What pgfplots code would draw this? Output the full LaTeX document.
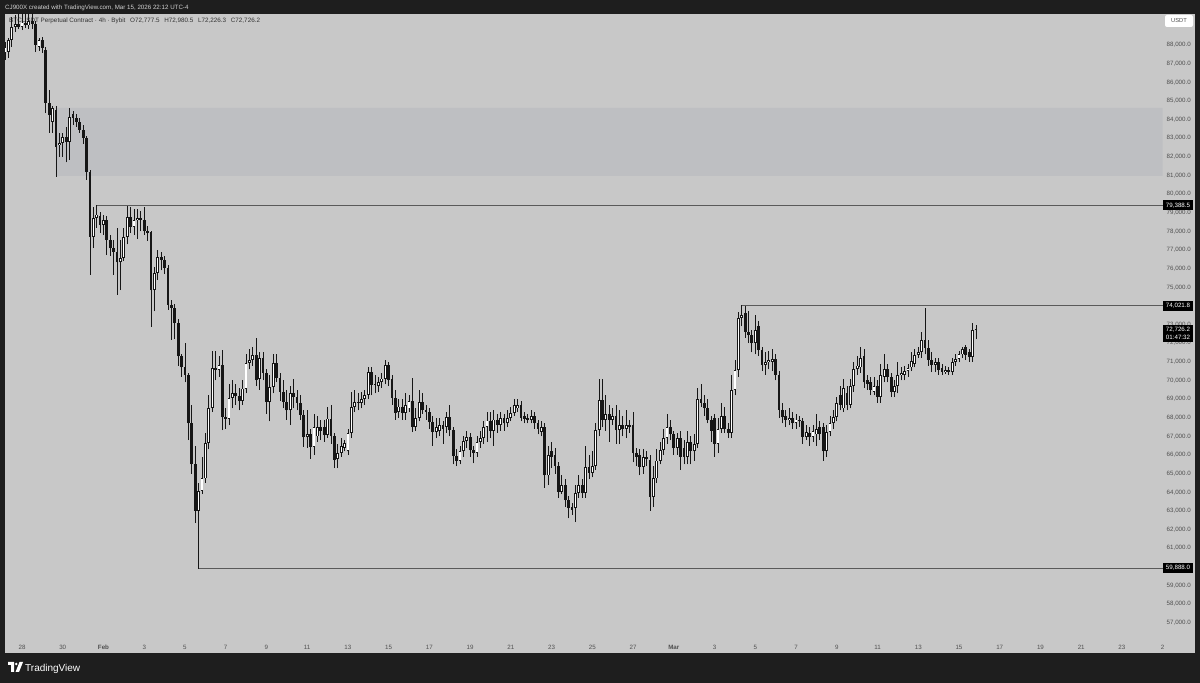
\documentclass[border=0pt]{standalone}
\usepackage{fontspec}
\setmainfont{Liberation Sans}
\usepackage{pgfplots}
\usepackage{pgfplotstable}
\pgfplotsset{compat=1.18}
\definecolor{frame}{RGB}{30,30,30}
\definecolor{panel}{RGB}{200,200,200}
\definecolor{zone}{RGB}{190,191,194}
\definecolor{tickc}{RGB}{80,80,80}
\definecolor{ray}{RGB}{90,90,90}
\definecolor{candle}{RGB}{22,22,22}

\pgfplotstableread{
k o h l c
-5 87570 88160 87200 87890
-4 87650 88400 87300 88250
-3 88270 89500 87900 88970
-2 88970 89600 88700 89100
-1 89100 89800 88850 88950
0 88950 89700 88800 89200
1 89200 89900 88900 89050
2 89050 89800 88850 89300
3 89300 89900 88850 89150
4 89100 89300 87620 88000
5 87890 88400 87700 88270
6 88270 88450 87570 87840
7 87730 87900 84350 84890
8 84890 85590 83280 84240
9 83870 84700 83280 84620
10 84510 84700 80920 82530
11 82630 83280 81990 82740
12 82740 83280 81990 83060
13 83060 83600 81700 82800
14 82800 84620 81830 84140
15 84300 84450 83700 84100
16 84100 84300 83600 83870
17 83870 84100 83280 83440
18 83440 83700 82700 83010
19 83010 83100 80760 81190
20 81190 81300 75660 77700
21 77700 79310 77100 78720
22 78720 79388.5 78200 78900
23 78800 79040 77900 78340
24 78340 78900 77800 78600
25 78600 78800 76730 77540
26 77540 77800 76700 77100
27 77100 77540 75660 76900
28 76900 78180 74600 76340
29 76340 77540 74850 76570
30 76570 78180 76400 77700
31 77700 79380 77300 78770
32 78770 79300 77900 78230
33 78230 79200 77800 78600
34 78600 79200 77600 78700
35 78700 79100 78000 78600
36 78600 79300 77800 78000
37 78000 78300 77500 77900
38 77950 78000 72870 74850
39 74850 76100 73700 75770
40 75770 77000 75400 76620
41 76620 76900 75900 76460
42 76460 76700 75700 76030
43 76030 76200 73800 74050
44 74050 74300 72170 73890
45 73890 74100 72200 73080
46 73080 73300 70800 71300
47 71300 71400 70200 70700
48 70700 72000 69900 70290
49 70290 70400 66800 67700
50 67700 68680 65000 65500
51 65500 66500 62350 63000
52 63000 64500 59888 64070
53 64070 65880 63900 64740
54 64740 67200 64500 66640
55 66640 69200 66300 68520
56 68520 71600 68300 70670
57 70670 71600 70000 70560
58 70560 71300 70200 70830
59 70830 71640 67340 68030
60 68030 68500 67400 67950
61 67950 69800 67600 69060
62 69060 70000 68500 69330
63 69330 69800 68700 69150
64 69150 69600 68400 68900
65 68900 70000 68700 69560
66 69560 71400 69300 70940
67 70940 71700 70600 71100
68 71100 71800 70800 71370
69 71370 72280 69700 70020
70 70100 71500 69500 71200
71 71200 71500 70000 70400
72 70400 70600 68200 68840
73 68840 70300 67800 69650
74 69650 71400 69300 70940
75 70940 71400 69900 70130
76 70130 70400 68900 69380
77 69380 70000 68500 68840
78 68840 69500 67900 68400
79 68400 69700 67600 69330
80 69330 70100 68500 69100
81 69100 69500 68400 68800
82 68800 69200 67900 68150
83 68150 68400 66430 66950
84 66950 68400 66400 67100
85 67100 67400 65800 66430
86 66430 68200 66000 67500
87 67000 68100 66700 67500
88 67500 67900 66800 67300
89 67500 67900 66700 67070
90 67070 68600 66900 67950
91 67950 68700 66600 67000
92 67000 67200 65300 65730
93 65800 66600 65300 66100
94 66100 66900 65900 66500
95 66400 66800 66200 66640
96 66200 67400 66000 67180
97 67180 69400 66900 68570
98 68570 69500 68300 68840
99 68840 69300 68400 68800
100 68800 69400 68500 69000
101 69000 69500 68700 69220
102 69220 70700 69000 70450
103 70450 70700 69200 69770
104 69770 70300 69300 69830
105 69700 70200 69400 69900
106 69900 70400 69600 70100
107 70100 71100 69800 70830
108 70830 71000 69700 70020
109 70100 70300 68700 69060
110 69060 69500 67900 68250
111 68300 69000 68000 68600
112 68600 69000 67900 68250
113 68250 69300 67900 68700
114 68500 69200 68300 68900
115 68900 70130 67230 67500
116 67500 68500 67300 68000
117 68000 69500 67800 68840
118 68840 69300 68200 68400
119 68400 68700 67900 68300
120 68300 68500 67400 67770
121 67770 68100 66500 67230
122 67230 68000 66900 67500
123 67300 68000 67000 67600
124 67600 67800 66600 67400
125 67500 68300 67200 68030
126 68030 68700 67000 67340
127 67340 67500 65500 65940
128 65940 66300 65400 65700
129 65700 66500 65500 66200
130 66200 67000 65900 66750
131 66750 67300 66400 66950
132 66950 67200 65900 66250
133 66250 66500 65550 66100
134 66100 67000 65900 66700
135 66700 67300 66400 66900
136 66900 67800 66600 67500
137 67500 68300 66700 67850
138 67850 68300 66900 67300
139 67300 68400 66500 67900
140 67900 68200 67200 67600
141 67600 68300 67300 68000
142 68000 68200 67300 67700
143 67700 68400 67500 68000
144 68000 68600 67800 68270
145 68270 69000 68100 68680
146 68500 69000 68300 68700
147 68700 68900 67800 68000
148 68100 68300 67700 67950
149 68000 68200 67700 67900
150 67900 68400 67700 68100
151 68100 68300 67400 67700
152 67700 67900 67100 67400
153 67250 67800 67000 67500
154 67500 67700 64230 64900
155 64900 66500 64400 66000
156 66200 66700 65300 65900
157 66000 66400 65000 65400
158 65400 65600 63700 64030
159 64030 64900 63900 64400
160 64400 64700 63200 63580
161 63580 63800 62600 63150
162 63200 63400 62800 63050
163 63150 64400 62400 63960
164 63960 64900 63700 64400
165 64400 64700 63700 63960
166 63960 66500 63700 65360
167 65360 66000 64700 65050
168 65050 66200 64800 65400
169 65400 67700 65200 67340
170 67340 70100 67000 68950
171 68950 70100 67500 67880
172 67880 69200 67300 68200
173 68200 68700 66700 67900
174 67900 68500 67600 68100
175 68100 68700 66600 67340
176 67340 68400 66600 67600
177 67600 68100 67000 67400
178 67400 68400 66900 67600
179 67600 67900 67200 67500
180 67600 68300 65600 66100
181 66100 66400 65400 65900
182 66000 66300 64900 65360
183 65360 66300 65000 65900
184 65900 66200 65400 65800
185 65730 66000 63000 63740
186 63740 65400 63200 64740
187 64740 66300 64500 65700
188 65700 66700 65500 66270
189 66270 67400 66000 66900
190 66900 68200 66600 67500
191 67500 67900 66800 67100
192 67100 67300 66000 66380
193 66380 67200 66000 66900
194 66900 67300 65200 65900
195 66400 66800 65500 65900
196 65900 67300 65500 66700
197 66700 67000 65500 66200
198 66200 67100 65700 66600
199 66600 69600 66400 69000
200 69000 69800 68600 68800
201 68800 69200 68100 68500
202 68500 69000 67700 67900
203 67900 68100 66700 67300
204 68000 68200 65900 66600
205 66600 68000 66100 67400
206 67400 68800 67200 68100
207 68100 68600 67200 67400
208 67400 67700 66900 67200
209 67200 70300 66900 69490
210 69490 71100 69200 70560
211 70560 73650 70200 73350
212 73350 74021.8 72900 73500
213 73600 74000 72300 72600
214 72600 73700 72000 72430
215 72430 72700 71500 72000
216 72000 73500 71400 72700
217 72900 73200 71300 71630
218 71630 71800 70500 70830
219 70830 71500 70300 71000
220 71000 71600 70600 71100
221 71000 71700 70500 71150
222 71150 71400 70000 70300
223 70300 70500 68000 68420
224 68420 68800 67700 68030
225 68100 68400 67500 67900
226 67900 68500 67600 68000
227 68000 68300 67400 67700
228 67700 68200 67400 67900
229 67900 68100 67500 67800
230 67800 68000 66600 66960
231 66960 67600 66800 67250
232 67200 67500 66500 66960
233 66960 67600 66700 67300
234 67100 68200 66500 67400
235 67500 67800 66800 67100
236 67500 67700 65700 66200
237 66200 67600 65900 67230
238 67230 68100 67000 67700
239 67700 68400 67400 68030
240 68030 69100 67800 68800
241 69200 69700 68400 68700
242 68500 70100 68300 69600
243 69300 69700 68400 68700
244 68700 70100 68500 69700
245 69700 71000 69400 70600
246 70600 71300 70300 70800
247 70700 71800 70400 71200
248 71300 71700 69600 69900
249 70000 70300 69500 69800
250 69900 70200 69200 69500
251 69400 70200 69200 69700
252 69700 70000 68800 69100
253 69100 70900 68800 70300
254 70200 71400 69900 70600
255 70600 70900 69900 70200
256 70200 70400 69100 69400
257 69400 70000 69100 69700
258 69700 71000 69300 70300
259 70300 70700 70000 70400
260 70300 70800 70000 70500
261 70500 70900 70200 70650
262 70700 71500 70500 71050
263 70900 71700 70700 71370
264 71370 71800 71200 71530
265 71530 72600 71200 72170
266 72170 73900 71400 71740
267 71740 72170 70800 71100
268 71100 71500 70450 70830
269 70830 71200 70450 70990
270 70990 71200 70300 70560
271 70670 70900 70300 70450
272 70450 70800 70350 70560
273 70560 70700 70300 70450
274 70450 71200 70300 71000
275 71000 71400 70800 71150
276 71150 71600 71000 71400
277 71400 71800 71200 71700
278 71800 71900 71100 71370
279 71500 71700 71000 71250
280 71250 73100 71000 72700
281 72777.5 72980.5 72226.3 72726.2
}\candles

\begin{document}
\begin{tikzpicture}[x=1pt,y=1pt]
\fill[frame] (0,0) rectangle (1200,683);
\fill[panel] (5,30) rectangle (1195,669);
\node[anchor=base west, inner sep=0pt, text=white!82!black, font=\fontsize{6.2}{7}\selectfont] at (5,673) {CJ900X created with TradingView.com, Mar 15, 2026 22:12 UTC-4};
\node[anchor=west, inner sep=0pt, text=black!80, font=\fontsize{6.3}{7}\selectfont] at (9,662) {BTCUSDT Perpetual Contract · 4h · Bybit\hspace{3pt} O72,777.5\hspace{3pt} H72,980.5\hspace{3pt} L72,226.3\hspace{3pt} C72,726.2};
\begin{axis}[
  at={(5pt,30pt)}, anchor=south west, scale only axis,
  width=1190pt, height=639pt,
  xmin=-0.835, xmax=57.585, ymin=55375, ymax=89663,
  axis line style={draw=none}, major tick length=0pt,
  scaled x ticks=false, scaled y ticks=false,
  xtick={0,2,...,56},
  xticklabels={28,30,\textbf{Feb},3,5,7,9,11,13,15,17,19,21,23,25,27,\textbf{Mar},3,5,7,9,11,13,15,17,19,21,23,2},
  xticklabel style={anchor=center, yshift=6pt, font=\fontsize{6.2}{7}\selectfont, text=tickc},
  ytick={57000,58000,...,88000},
  yticklabel pos=right,
  yticklabel style={anchor=east, xshift=-4pt, inner sep=0pt, font=\fontsize{6.2}{7}\selectfont, text=tickc,
    /pgf/number format/.cd, fixed, fixed zerofill, precision=1, 1000 sep={,}, assume math mode=true},
]
\addplot[draw=none, fill=zone, forget plot] coordinates {(1.667,80970) (56,80970) (56,84620) (1.667,84620) (1.667,80970)};
\addplot[ray, line width=0.9pt, forget plot] coordinates {(3.667,79388.5) (56,79388.5)};
\addplot[ray, line width=0.9pt, forget plot] coordinates {(35.333,74021.8) (56,74021.8)};
\addplot[ray, line width=0.9pt, forget plot] coordinates {(8.667,59888) (56,59888)};
% wicks
\addplot[candle, line width=0.8pt, mark=none, forget plot, -,
  quiver={u=0, v={\thisrow{h}-\thisrow{l}}}]
  table[x expr=\thisrow{k}/6, y=l] {\candles};
% bodies
\addplot[candle, line width=2.8pt, mark=none, forget plot, -,
  quiver={u=0, v={max(abs(\thisrow{c}-\thisrow{o}),45)}}]
  table[x expr=\thisrow{k}/6, y expr={min(\thisrow{o},\thisrow{c})}] {\candles};
% hollow up bodies
\addplot[white, line width=1.2pt, mark=none, forget plot, -,
  quiver={u=0, v={max(\thisrow{c}-\thisrow{o}-90,0)}}]
  table[x expr=\thisrow{k}/6, y expr={\thisrow{o}+45}] {\candles};
\end{axis}
% price boxes
\begin{scope}[font=\fontsize{6.2}{7}\selectfont]
\fill[black] (1163,472.5) rectangle (1193,482.5);
\node[text=white, inner sep=0pt] at (1178,477.5) {79,388.5};
\fill[black] (1163,372.3) rectangle (1193,382.3);
\node[text=white, inner sep=0pt] at (1178,377.3) {74,021.8};
\fill[black] (1163,341) rectangle (1193,358);
\node[text=white, inner sep=0pt] at (1178,353.2) {72,726.2};
\node[text=white, inner sep=0pt] at (1178,345.3) {01:47:32};
\fill[black] (1163,109.8) rectangle (1193,119.8);
\node[text=white, inner sep=0pt] at (1178,114.8) {59,888.0};
\fill[white, rounded corners=2pt] (1165,656) rectangle (1193,668);
\node[text=tickc, inner sep=0pt, font=\fontsize{5.8}{7}\selectfont] at (1179,662) {USDT};
\end{scope}
% footer logo
\fill[white] (8,21) -- (14,21) -- (14,11) -- (11,11) -- (11,18) -- (8,18) -- cycle;
\fill[white] (16.3,19) circle (1.4);
\fill[white] (19.5,21) -- (23,21) -- (19,11) -- (15.5,11) -- cycle;
\node[anchor=base west, inner sep=0pt, text=white, font=\fontsize{10}{12}\selectfont] at (25,11.5) {TradingView};
\end{tikzpicture}
\end{document}
